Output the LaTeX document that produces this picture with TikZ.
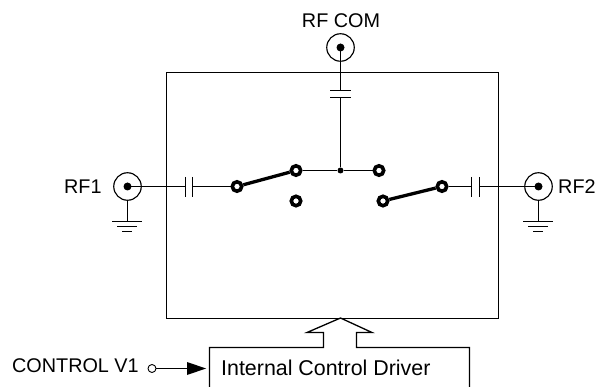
\documentclass[tikz,border=0pt]{standalone}
\usepackage{fontspec}
\setmainfont{Liberation Sans}
\begin{document}
\begin{tikzpicture}[x=1pt,y=-1pt,
  wire/.style={line width=1.3pt,black},
  arm/.style={line width=3.3pt,black},
  contact/.style={circle,draw=black,line width=3.6pt,fill=white,inner sep=0pt,minimum size=9.4pt},
  port/.style={circle,draw=black,line width=1.15pt,fill=white,inner sep=0pt,minimum size=27.5pt},
  pin/.style={circle,fill=black,inner sep=0pt,minimum size=8pt},
  junction/.style={circle,fill=black,inner sep=0pt,minimum size=6pt},
  lab/.style={inner sep=0pt,font=\fontsize{19.8pt}{22pt}\selectfont,text=black}]
\useasboundingbox (0,0) rectangle (597,387);
% block outline
\coordinate (tl) at (166.5,72.5);
\coordinate (br) at (498.5,318.5);
\draw[wire] (tl) rectangle (br);
% ports
\node[port] (p1) at (127.5,186.5) {};
\node[port] (p2) at (538.5,186.5) {};
\node[port] (pc) at (340.5,47.5) {};
% capacitors
\coordinate (c1a) at (185.5,186.5); \coordinate (c1b) at (192.5,186.5);
\coordinate (c2a) at (471.5,186.5); \coordinate (c2b) at (479.5,186.5);
\coordinate (c3a) at (340.5,90.5); \coordinate (c3b) at (340.5,97.5);
\node[contact] (s1) at (237,186.5) {};
\node[contact] (u1) at (296,170.5) {};
\node[contact] (l1) at (296,201) {};
\node[contact] (u2) at (379,170.5) {};
\node[contact] (l2) at (383,201) {};
\node[contact] (s2) at (442,186.5) {};
\node[junction] (j) at (340.5,170.5) {};
% wires
\draw[wire] (p1.center) -- (c1a);
\draw[wire] (c1b) -- (s1);
\draw[wire] (s2) -- (c2a);
\draw[wire] (c2b) -- (p2.center);
\draw[wire] (pc.center) -- (c3a);
\draw[wire] (c3b) -- (j);
\draw[wire] (u1) -- (j);
\draw[wire] (j) -- (u2);
\draw[wire] (185.5,177) -- (185.5,197);
\draw[wire] (192.5,177) -- (192.5,197);
\draw[wire] (471.5,177) -- (471.5,197);
\draw[wire] (479.5,177) -- (479.5,197);
\draw[wire] (330,90.5) -- (351,90.5);
\draw[wire] (330,97.5) -- (351,97.5);
% pins on top of wires
\node[pin] (d1) at (127.5,186.5) {};
\node[pin] (d2) at (538.5,186.5) {};
\node[pin] (dc) at (340.5,47.5) {};
% arms
\draw[arm] (s1) -- (u1);
\draw[arm] (l2) -- (s2);
% grounds
\coordinate (g1) at (127.5,222);
\coordinate (g2) at (538.5,222);
\draw[wire] (p1) -- (g1);
\draw[wire] (p2) -- (g2);
\draw[wire] (112,221.5) -- (142,221.5) (117,226.5) -- (137,226.5) (122,231.5) -- (132,231.5);
\draw[wire] (523,221.5) -- (553,221.5) (528,226.5) -- (548,226.5) (533,231.5) -- (543,231.5);
% driver box with hollow arrow
\draw[wire] (209.5,389) -- (209.5,347.5) -- (323.5,347.5) -- (323.5,332.5) -- (307,332.5) -- (340.5,318) -- (372,332.5) -- (356.5,332.5) -- (356.5,347.5) -- (469.5,347.5) -- (469.5,389);
\node[lab,font=\fontsize{21.4pt}{24pt}\selectfont,anchor=base west] (drv) at (221,375) {Internal Control Driver};
% control input
\node[circle,draw=black,line width=0.9pt,fill=white,inner sep=0pt,minimum size=8pt] (ci) at (152,368.5) {};
\coordinate (ce) at (206,368.5);
\draw[wire] (ci) -- (187,368.5);
\fill[black] (ce) -- (187,362) -- (187,375) -- cycle;
% labels
\node[lab,anchor=base west] (t1) at (64,194) {RF1};
\node[lab,anchor=base west] (t2) at (558,194) {RF2};
\node[lab,anchor=base] (t3) at (341,28) {RF COM};
\node[lab,anchor=base west] (t4) at (12,372) {CONTROL V1};
\end{tikzpicture}
\end{document}
